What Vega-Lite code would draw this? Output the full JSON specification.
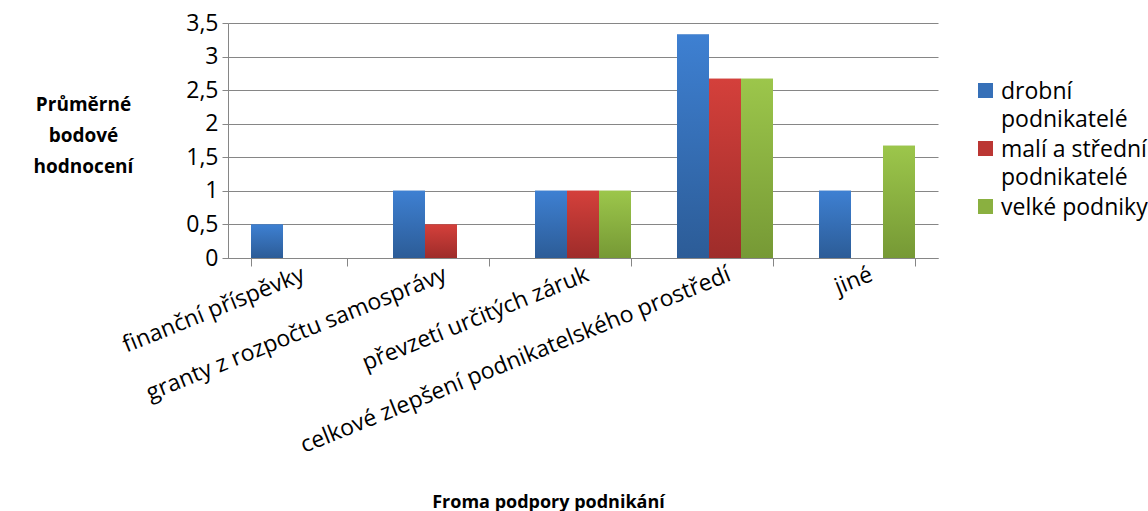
{
  "$schema": "https://vega.github.io/schema/vega-lite/v6.json",
  "width": 710,
  "height": 235,
  "autosize": {"type": "none"},
  "padding": {"left": 228, "top": 23, "right": 210, "bottom": 253},
  "background": "white",
  "data": {
    "values": [
      {"forma": "finanční příspěvky", "skupina": "drobní podnikatelé", "hodnota": 0.5},
      {"forma": "granty z rozpočtu samosprávy", "skupina": "drobní podnikatelé", "hodnota": 1},
      {"forma": "granty z rozpočtu samosprávy", "skupina": "malí a střední podnikatelé", "hodnota": 0.5},
      {"forma": "převzetí určitých záruk", "skupina": "drobní podnikatelé", "hodnota": 1},
      {"forma": "převzetí určitých záruk", "skupina": "malí a střední podnikatelé", "hodnota": 1},
      {"forma": "převzetí určitých záruk", "skupina": "velké podniky", "hodnota": 1},
      {"forma": "celkové zlepšení podnikatelského prostředí", "skupina": "drobní podnikatelé", "hodnota": 3.33},
      {"forma": "celkové zlepšení podnikatelského prostředí", "skupina": "malí a střední podnikatelé", "hodnota": 2.67},
      {"forma": "celkové zlepšení podnikatelského prostředí", "skupina": "velké podniky", "hodnota": 2.67},
      {"forma": "jiné", "skupina": "drobní podnikatelé", "hodnota": 1},
      {"forma": "jiné", "skupina": "velké podniky", "hodnota": 1.67}
    ]
  },
  "encoding": {
    "x": {
      "field": "forma",
      "type": "nominal",
      "sort": ["finanční příspěvky", "granty z rozpočtu samosprávy", "převzetí určitých záruk", "celkové zlepšení podnikatelského prostředí", "jiné"],
      "scale": {"paddingInner": 0.324, "paddingOuter": 0.162},
      "axis": {
        "title": "Froma podpory podnikání",
        "titleFontWeight": "bold",
        "titleFontSize": 18,
        "titleX": 320,
        "titleY": 249,
        "titleAlign": "center",
        "titleBaseline": "alphabetic",
        "labelAngle": -22,
        "labelAlign": "right",
        "labelBaseline": "top",
        "labelPadding": -3,
        "labelFontSize": 23,
        "labelLimit": 0,
        "tickBand": "extent",
        "tickSize": 8,
        "tickColor": "#868686",
        "domainColor": "#868686",
        "grid": false
      }
    },
    "xOffset": {
      "field": "skupina",
      "type": "nominal",
      "scale": {"domain": ["drobní podnikatelé", "malí a střední podnikatelé", "velké podniky"], "paddingInner": 0, "paddingOuter": 0}
    },
    "y": {
      "field": "hodnota",
      "type": "quantitative",
      "scale": {"domain": [0, 3.5], "nice": false},
      "axis": {
        "values": [0, 0.5, 1, 1.5, 2, 2.5, 3, 3.5],
        "labelExpr": "replace(format(datum.value, '.1~f'), '.', ',')",
        "labelFontSize": 23,
        "labelPadding": 4,
        "tickSize": 6,
        "tickColor": "#868686",
        "domainColor": "#868686",
        "gridColor": "#868686",
        "title": ["Průměrné", "bodové", "hodnocení"],
        "titleAngle": 0,
        "titleFontWeight": "bold",
        "titleFontSize": 19,
        "titleLineHeight": 31,
        "titleAlign": "center",
        "titleBaseline": "alphabetic",
        "titleX": -145,
        "titleY": 87
      }
    }
  },
  "layer": [
    {
      "mark": {"type": "bar"},
      "encoding": {
        "color": {
          "field": "skupina",
          "type": "nominal",
          "scale": {
            "domain": ["drobní podnikatelé", "malí a střední podnikatelé", "velké podniky"],
            "range": ["#3670b8", "#bb3633", "#8ab040"]
          },
          "legend": {
            "title": null,
            "orient": "none",
            "legendX": 746,
            "legendY": 64,
            "symbolType": "M-1,-2.07H1V-0.07H-1Z",
            "symbolSize": 225,
            "symbolStrokeWidth": 0,
            "labelFontSize": 23,
            "labelLimit": 0,
            "labelOffset": 4,
            "labelBaseline": "alphabetic",
            "rowPadding": 6,
            "labelExpr": "datum.label == 'drobní podnikatelé' ? ['drobní', 'podnikatelé'] : datum.label == 'malí a střední podnikatelé' ? ['malí a střední', 'podnikatelé'] : datum.label"
          }
        }
      }
    },
    {
      "transform": [{"filter": "datum.skupina == 'drobní podnikatelé'"}],
      "mark": {"type": "bar", "color": {"gradient": "linear", "x1": 0, "y1": 0, "x2": 0, "y2": 1, "stops": [{"offset": 0, "color": "#3e80d2"}, {"offset": 1, "color": "#2c5c97"}]}}
    },
    {
      "transform": [{"filter": "datum.skupina == 'malí a střední podnikatelé'"}],
      "mark": {"type": "bar", "color": {"gradient": "linear", "x1": 0, "y1": 0, "x2": 0, "y2": 1, "stops": [{"offset": 0, "color": "#d4403b"}, {"offset": 1, "color": "#9e2c2a"}]}}
    },
    {
      "transform": [{"filter": "datum.skupina == 'velké podniky'"}],
      "mark": {"type": "bar", "color": {"gradient": "linear", "x1": 0, "y1": 0, "x2": 0, "y2": 1, "stops": [{"offset": 0, "color": "#9cc64b"}, {"offset": 1, "color": "#769935"}]}}
    }
  ],
  "config": {
    "font": "Open Sans",
    "view": {"stroke": null},
    "axis": {"labelColor": "#000000", "titleColor": "#000000", "labelFont": "Open Sans", "titleFont": "Open Sans"},
    "legend": {"labelColor": "#000000", "labelFont": "Open Sans"},
    "style": {"guide-label": {"lineHeight": 28}}
  }
}
